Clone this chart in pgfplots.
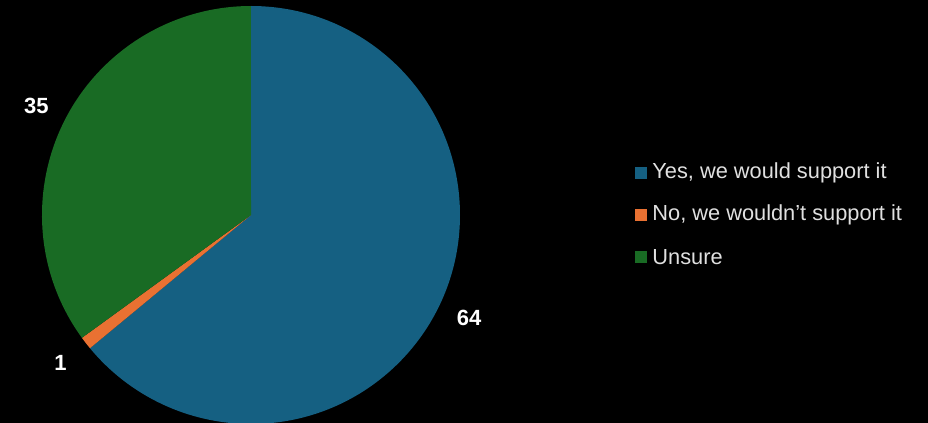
\documentclass[border=0pt]{standalone}
\usepackage{pgfplots}
\pgfplotsset{compat=1.18}
\usepackage{pgfplotstable}
\usepackage{fontspec}
\setmainfont{Liberation Sans}
\definecolor{cyes}{HTML}{156082}
\definecolor{cno}{HTML}{E97132}
\definecolor{cuns}{HTML}{196B24}
\definecolor{legtext}{HTML}{E0E0E0}

\pgfplotstableread{
label value
Yes 64
No 1
Unsure 35
}\piedata

\begin{document}
\begin{tikzpicture}
\pgfplotstablegetelem{0}{value}\of\piedata \pgfmathsetmacro{\va}{\pgfplotsretval}
\pgfplotstablegetelem{1}{value}\of\piedata \pgfmathsetmacro{\vb}{\pgfplotsretval}
\pgfplotstablegetelem{2}{value}\of\piedata \pgfmathsetmacro{\vc}{\pgfplotsretval}
\pgfmathsetmacro{\tot}{\va+\vb+\vc}
\pgfmathsetmacro{\aa}{90}
\pgfmathsetmacro{\ab}{90-\va/\tot*360}
\pgfmathsetmacro{\ac}{\ab-\vb/\tot*360}
\pgfmathsetmacro{\ad}{\ac-\vc/\tot*360}
\pgfmathsetmacro{\ma}{(\aa+\ab)/2}
\pgfmathsetmacro{\mb}{(\ab+\ac)/2}
\pgfmathsetmacro{\mc}{(\ac+\ad)/2}
\pgfmathsetmacro{\lax}{251+241*cos(\ma)}\pgfmathsetmacro{\lay}{208+241*sin(\ma)}
\pgfmathsetmacro{\lbx}{251+241*cos(\mb)}\pgfmathsetmacro{\lby}{208+241*sin(\mb)}
\pgfmathsetmacro{\lcx}{251+241*cos(\mc)}\pgfmathsetmacro{\lcy}{208+241*sin(\mc)}
\begin{axis}[
  width=464pt, height=211.5pt, scale only axis,
  xmin=0, xmax=928, ymin=0, ymax=423,
  hide axis, clip=true,
]
\fill[black] (axis cs:0,0) rectangle (axis cs:928,423);
\fill[cyes] (axis cs:251,208) -- ++(\aa:104.5pt) arc[start angle=\aa, end angle=\ab, radius=104.5pt] -- cycle;
\fill[cno] (axis cs:251,208) -- ++(\ab:104.5pt) arc[start angle=\ab, end angle=\ac, radius=104.5pt] -- cycle;
\fill[cuns] (axis cs:251,208) -- ++(\ac:104.5pt) arc[start angle=\ac, end angle=\ad, radius=104.5pt] -- cycle;
\node[white, font=\fontsize{11}{13}\selectfont\bfseries] at (axis cs:\lax,\lay) {64};
\node[white, font=\fontsize{11}{13}\selectfont\bfseries] at (axis cs:\lbx,\lby) {1};
\node[white, font=\fontsize{11}{13}\selectfont\bfseries] at (axis cs:\lcx,\lcy) {35};
\fill[cyes] (axis cs:635,244) rectangle (axis cs:647,256);
\fill[cno] (axis cs:635,202) rectangle (axis cs:647,214);
\fill[cuns] (axis cs:635,160) rectangle (axis cs:647,172);
\node[legtext, anchor=west, inner sep=0pt, font=\fontsize{10.9}{13}\selectfont] at (axis cs:652,250) {Yes, we would support it};
\node[legtext, anchor=west, inner sep=0pt, font=\fontsize{10.9}{13}\selectfont] at (axis cs:652,208) {No, we wouldn\symbol{"27}t support it};
\node[legtext, anchor=west, inner sep=0pt, font=\fontsize{10.9}{13}\selectfont] at (axis cs:652,166) {Unsure};
\end{axis}
\end{tikzpicture}
\end{document}
